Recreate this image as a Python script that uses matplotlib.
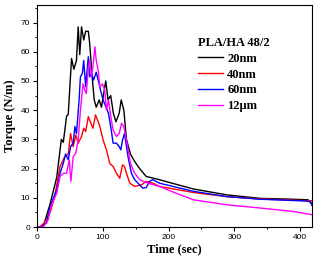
import matplotlib
matplotlib.use('Agg')
import matplotlib.pyplot as plt
from matplotlib.ticker import MultipleLocator

# torque vs. time
t_20 = [0, 5, 10, 20, 30, 37, 40, 45, 47.5, 52.5, 56, 60, 62.6, 65, 67.7, 71, 74, 78, 80, 84, 87,
        90, 94.5, 98, 104.5, 108, 112, 116, 120, 125, 128, 132, 136, 142, 148.5, 156, 166, 186,
        202, 238, 288.5, 339, 390, 412, 416, 418]
y_20 = [0, 0, 0.5, 8, 17, 30, 29, 38, 38.5, 57.7, 54, 57, 68.5, 59, 68.5, 64, 67, 67, 63, 51, 43.5,
        41, 43.5, 41, 50, 43.5, 45, 39, 36, 39, 43.5, 40, 30, 25, 22.4, 20, 17.3, 16.2,
        15.2, 13, 11, 9.8, 9.5, 9.3, 8.5, 7.5]

t_40 = [0, 4, 12, 20, 27, 35, 42, 47.5, 51, 55, 59, 62.6, 67.7, 71, 74, 78, 81, 85, 89, 93, 95.5,
        100.5, 105.5, 110.6, 115.7, 120.7, 125.8, 130, 133, 136, 141, 148.5, 158.6, 166, 176, 186,
        238, 288.5, 339, 410, 418]
y_40 = [0, 0, 1.6, 5, 10.5, 20.7, 24, 25, 32, 27.5, 31.5, 28.7, 31, 33.8, 32.7, 37.8, 36, 33.8, 38.4,
        36, 34.4, 29.8, 26.4, 21.8, 20.7, 18.4, 16.7, 21.3, 20.7, 18.4, 15, 13.9, 14.4, 15.6, 15, 13.9,
        11.8, 10.4, 9.6, 9.0, 9.0]

t_60 = [0, 7, 14.6, 20, 25, 30, 35, 40, 43.5, 47.5, 51, 55, 57.6, 60, 64, 66, 69, 71, 74, 78, 80,
        83, 86, 90, 93, 96.5, 100.5, 104.5, 108.6, 113, 115.7, 120.7, 125, 127.4, 130, 133, 138.4,
        143.5, 148.5, 156, 161, 166, 171, 176, 186, 238, 288.5, 339, 410, 416, 418]
y_60 = [0, 0, 1.4, 7, 10, 12.7, 18.4, 21.8, 25, 23, 27.5, 28.7, 34.4, 32, 43.5, 51.4, 52.6, 57, 48,
        58.3, 51.4, 52.6, 50.3, 53, 50.3, 46.9, 43.5, 41.2, 39, 33, 28.7, 28.7, 27.5, 26.4, 29.8,
        32, 24, 18.4, 16.2, 14.4, 13.3, 13.5, 15.6, 16.2, 15, 12.2, 10.4, 9.5, 8.9, 8.5, 7.5]

t_12 = [0, 9.6, 17, 22, 30, 35, 40, 45, 49, 51.5, 55, 59, 62.6, 66, 70, 72.6, 75, 78, 80, 83, 85,
        88, 90, 93, 95.5, 99.5, 103, 105.6, 108.6, 113, 115.7, 120.7, 125, 128.5, 132, 136, 142,
        148.5, 156, 166, 186, 212, 238, 288.5, 339, 390, 418]
y_12 = [0, 0, 2.5, 7.6, 11.6, 17.3, 18.4, 18.4, 23, 15.6, 24, 25.3, 29.8, 40, 49, 46.9, 45.7,
        54.8, 57, 51.4, 54.8, 61.7, 57, 53.7, 48, 49, 46.9, 40, 43.5, 36.6, 33.2, 31, 32, 35.5,
        34.4, 29.8, 21.8, 18.4, 16.2, 15.2, 13.9, 11.5, 9.3, 7.6, 6.5, 5.3, 4.2]

serif = ['Liberation Serif', 'DejaVu Serif']
sans = ['Liberation Sans', 'DejaVu Sans']

fig = plt.figure(figsize=(3.21, 2.65), dpi=100)
ax = fig.add_axes([37/321, 1-227/265, (312-37)/321, (227-5)/265])

ax.plot(t_20, y_20, color='black', lw=1.0, label='20nm')
ax.plot(t_40, y_40, color='red', lw=1.0, label='40nm')
ax.plot(t_60, y_60, color='blue', lw=1.0, label='60nm')
ax.plot(t_12, y_12, color='magenta', lw=1.0, label='12\u03bcm')

ax.set_xlim(0, 418)
ax.set_ylim(0, 76)
ax.xaxis.set_major_locator(MultipleLocator(100))
ax.xaxis.set_minor_locator(MultipleLocator(50))
ax.yaxis.set_major_locator(MultipleLocator(10))
ax.yaxis.set_minor_locator(MultipleLocator(5))
ax.tick_params(which='major', direction='out', length=3, width=0.8, labelsize=6, pad=2)
ax.tick_params(which='minor', direction='out', length=1.5, width=0.8)
for lab in ax.get_xticklabels() + ax.get_yticklabels():
    lab.set_family(sans)

ax.set_xlabel('Time (sec)', family=serif, fontweight='bold', fontsize=9, labelpad=2)
ax.set_ylabel('Torque (N/m)', family=serif, fontweight='bold', fontsize=9, labelpad=3)

leg = ax.legend(title='PLA/HA 48/2', frameon=False, loc='upper left',
                bbox_to_anchor=(0.555, 0.895), handlelength=2.0, labelspacing=0.3,
                handletextpad=0.3, borderpad=0.2,
                prop={'family': serif, 'weight': 'bold', 'size': 9})
leg.get_title().set_fontproperties({'family': serif, 'weight': 'bold', 'size': 9})
leg._legend_box.align = 'left'

fig.savefig('out.png', dpi=100)
